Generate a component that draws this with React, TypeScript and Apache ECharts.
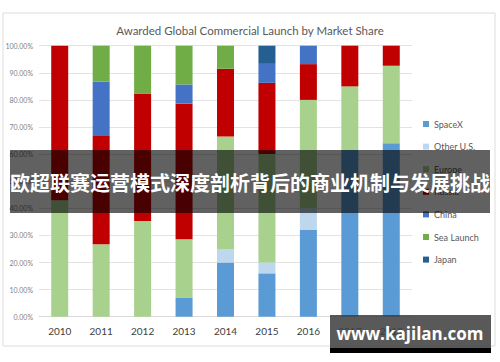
import React, { useEffect, useRef } from "react";
import * as echarts from "echarts";

const years = ["2010", "2011", "2012", "2013", "2014", "2015", "2016", "2017", "2018"];
const spacex = [0, 0, 0, 7.1, 20, 16, 32, 61.5, 64];
const otherUS = [0, 0, 0, 0, 5, 4, 8, 0, 0];
const europe = [43, 26.7, 35.3, 21.5, 41.5, 40, 40, 23.5, 28.6];
const russia = [57, 40, 47.1, 50, 25, 26.3, 13.2, 15, 7.4];
const china = [0, 20, 0, 7.1, 0, 7, 6.8, 0, 0];
const seaLaunch = [0, 13.3, 17.6, 14.3, 8.5, 0, 0, 0, 0];
const japan = [0, 0, 0, 0, 0, 6.7, 0, 0, 0];

const seriesNames = ["SpaceX", "Other U.S.", "Europe", "Russia", "China", "Sea Launch", "Japan"];
const seriesData = [spacex, otherUS, europe, russia, china, seaLaunch, japan];
const seriesColors = ["#5B9BD5", "#BDD7EE", "#A9D18E", "#C00000", "#4472C4", "#70AD47", "#255E91"];

const title = "Awarded Global Commercial Launch by Market Share";
const bannerText = "欧超联赛运营模式深度剖析背后的商业机制与发展挑战";
const watermark = "www.kajilan.com";

export default function App() {
  const ref = useRef<HTMLDivElement>(null);
  useEffect(() => {
    if (!ref.current) return;
    const chart = echarts.init(ref.current, null, { renderer: "svg" });
    chart.setOption({
      animation: false,
      backgroundColor: "#ffffff",
      textStyle: { fontFamily: "Lato, 'Open Sans', sans-serif" },
      title: {
        text: title,
        left: "center",
        top: 19,
        textStyle: { fontSize: 11.5, fontWeight: "normal", color: "#595959", fontFamily: "Lato, sans-serif" },
      },
      grid: { left: 39, right: 88, top: 45.7, bottom: 45.3, containLabel: false },
      legend: {
        orient: "vertical",
        left: 418,
        top: 114,
        itemWidth: 6,
        itemHeight: 6,
        itemGap: 12.6,
        icon: "rect",
        data: seriesNames,
        textStyle: { fontSize: 9, lineHeight: 10, color: "#595959" },
      },
      xAxis: {
        type: "category",
        data: years,
        axisLine: { show: true, lineStyle: { color: "#d9d9d9" } },
        axisTick: { show: false },
        axisLabel: { fontSize: 10, color: "#404040", margin: 9 },
      },
      yAxis: {
        type: "value",
        min: 0,
        max: 100,
        interval: 10,
        axisLine: { show: false },
        axisTick: { show: false },
        splitLine: { lineStyle: { color: "#e3e3e3" } },
        axisLabel: {
          fontSize: 7,
          color: "#7f7f7f",
          margin: 6,
          formatter: (v: number) => v.toFixed(2) + "%",
        },
      },
      series: seriesNames.map((name, i) => ({
        name,
        type: "bar",
        stack: "share",
        barWidth: 17,
        data: seriesData[i],
        itemStyle: { color: seriesColors[i] },
      })),
      graphic: [
        {
          type: "rect",
          z: -10,
          shape: { x: 3, y: 13, width: 492, height: 333 },
          style: { fill: "none", stroke: "#dcdcdc", lineWidth: 1 },
        },
        {
          type: "rect",
          z: 100,
          shape: { x: 10, y: 150, width: 480, height: 63 },
          style: { fill: "rgba(0,0,0,0.62)" },
        },
        {
          type: "text",
          z: 101,
          x: 250,
          y: 182,
          style: {
            text: bannerText,
            fill: "#ffffff",
            fontSize: 20,
            fontWeight: "bold",
            fontFamily: "'Noto Sans CJK SC', sans-serif",
            align: "center",
            verticalAlign: "middle",
          },
        },
        {
          type: "rect",
          z: 100,
          shape: { x: 330, y: 315, width: 161, height: 33 },
          style: { fill: "rgba(60,60,60,0.85)" },
        },
        {
          type: "rect",
          z: 100,
          shape: { x: 330, y: 348, width: 161, height: 5 },
          style: { fill: "#000000" },
        },
        {
          type: "text",
          z: 101,
          x: 410,
          y: 333,
          style: {
            text: watermark,
            fill: "#ffffff",
            fontSize: 17,
            fontWeight: "bold",
            fontFamily: "'Open Sans', sans-serif",
            align: "center",
            verticalAlign: "middle",
          },
        },
      ],
    });
    return () => chart.dispose();
  }, []);
  return (
    <div
      ref={ref}
      style={{ position: "fixed", left: 0, top: 0, width: 500, height: 362, background: "#fff" }}
    />
  );
}
